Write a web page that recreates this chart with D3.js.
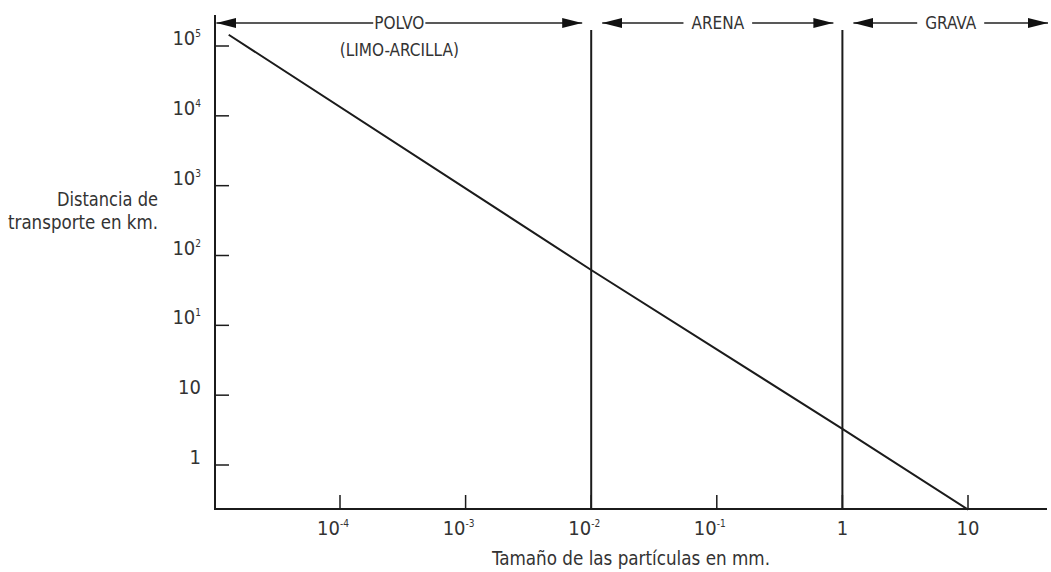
<!DOCTYPE html>
<html>
<head>
<meta charset="utf-8">
<script src="https://cdn.jsdelivr.net/npm/d3@7"></script>
<style>
  body { margin: 0; background: #fff; }
  svg text { font-family: "DejaVu Sans Condensed", "Liberation Sans", sans-serif; font-stretch: condensed; fill: #333; }
</style>
</head>
<body>
<svg id="chart" width="1051" height="572"></svg>
<script>
// === DONNÉES ===
// tamaño (mm) y distancia (km) leídos sobre la recta
const lineSize = [1.3e-5, 1e-2, 1, 10];
const lineDist = [1.45e5, 62, 0.33, 0.023];

// ticks del eje X
const xTickValues = [1e-4, 1e-3, 1e-2, 1e-1, 1, 10];
const xTickBase = ["10", "10", "10", "10", "1", "10"];
const xTickExp = ["-4", "-3", "-2", "-1", "", ""];

// ticks del eje Y (las etiquetas tal como aparecen en la figura)
const yTickValues = [1e5, 1e4, 1e3, 1e2, 1e1, 1, 1e-1];
const yTickBase = ["10", "10", "10", "10", "10", "10", "1"];
const yTickExp = ["5", "4", "3", "2", "1", "", ""];

// zonas granulométricas
const zoneNames = ["POLVO", "ARENA", "GRAVA"];
const zoneSub = ["(LIMO-ARCILLA)", "", ""];
const zoneLimits = [1e-5, 1e-2, 1, 43];
const boundaries = [1e-2, 1];

// === CONFIGURATION ===
const axisLeftX = 215, axisRightX = 1047;
const axisTopY = 15, axisBottomY = 509;
const ink = "#1b1b1b";

const svg = d3.select("#chart");

const x = d3.scaleLog().domain([1e-4, 10]).range([340, 968]);
const y = d3.scaleLog().domain([1e5, 1e-1]).range([46, 465]);

// flecha
svg.append("defs").append("marker")
  .attr("id", "arrow")
  .attr("viewBox", "0 0 20 10")
  .attr("refX", 20).attr("refY", 5)
  .attr("markerWidth", 20).attr("markerHeight", 10)
  .attr("markerUnits", "userSpaceOnUse")
  .attr("orient", "auto-start-reverse")
  .append("path")
  .attr("d", "M0,0 L20,5 L0,10 Z")
  .attr("fill", "#111");

// === EJES ===
svg.append("line")
  .attr("x1", axisLeftX).attr("x2", axisLeftX)
  .attr("y1", axisTopY).attr("y2", axisBottomY)
  .attr("stroke", ink).attr("stroke-width", 2);

svg.append("line")
  .attr("x1", axisLeftX - 1).attr("x2", axisRightX)
  .attr("y1", axisBottomY).attr("y2", axisBottomY)
  .attr("stroke", ink).attr("stroke-width", 2);

// ticks Y (hacia dentro)
svg.append("g")
  .selectAll("line")
  .data(yTickValues)
  .enter()
  .append("line")
  .attr("x1", axisLeftX).attr("x2", axisLeftX + 14)
  .attr("y1", d => y(d)).attr("y2", d => y(d))
  .attr("stroke", ink).attr("stroke-width", 1.5);

const yLabels = svg.append("g")
  .selectAll("text")
  .data(yTickValues)
  .enter()
  .append("text")
  .attr("x", 201)
  .attr("y", d => y(d) - 1)
  .attr("text-anchor", "end")
  .style("font-size", "20px");
yLabels.append("tspan").text((d, i) => yTickBase[i]);
yLabels.append("tspan")
  .attr("dy", -8)
  .style("font-size", "10px")
  .text((d, i) => yTickExp[i]);

// ticks X (hacia arriba)
svg.append("g")
  .selectAll("line")
  .data(xTickValues)
  .enter()
  .append("line")
  .attr("x1", d => x(d)).attr("x2", d => x(d))
  .attr("y1", axisBottomY).attr("y2", axisBottomY - 14)
  .attr("stroke", ink).attr("stroke-width", 1.5);

const xLabels = svg.append("g")
  .selectAll("text")
  .data(xTickValues)
  .enter()
  .append("text")
  .attr("x", (d, i) => x(d) - (xTickExp[i] ? 7 : 0))
  .attr("y", axisBottomY + 26)
  .attr("text-anchor", "middle")
  .style("font-size", "20px");
xLabels.append("tspan").text((d, i) => xTickBase[i]);
xLabels.append("tspan")
  .attr("dy", -8)
  .style("font-size", "10px")
  .text((d, i) => xTickExp[i]);

// títulos
svg.append("text")
  .attr("x", 492).attr("y", 565)
  .attr("textLength", 278)
  .attr("lengthAdjust", "spacingAndGlyphs")
  .style("font-size", "19px")
  .text("Tamaño de las partículas en mm.");

svg.append("text")
  .attr("x", 57).attr("y", 206)
  .attr("textLength", 101)
  .attr("lengthAdjust", "spacingAndGlyphs")
  .style("font-size", "19px")
  .text("Distancia de");
svg.append("text")
  .attr("x", 8).attr("y", 229)
  .attr("textLength", 150)
  .attr("lengthAdjust", "spacingAndGlyphs")
  .style("font-size", "19px")
  .text("transporte en km.");

// === LÍMITES DE ZONAS ===
svg.append("g")
  .selectAll("line")
  .data(boundaries)
  .enter()
  .append("line")
  .attr("x1", d => x(d)).attr("x2", d => x(d))
  .attr("y1", 30).attr("y2", axisBottomY)
  .attr("stroke", ink).attr("stroke-width", 2);

// === RECTA ===
const pts = lineSize.map((s, i) => [x(s), y(lineDist[i])]);
svg.append("path")
  .attr("d", d3.line()(pts))
  .attr("fill", "none")
  .attr("stroke", ink)
  .attr("stroke-width", 2);

// === FLECHAS DE ZONAS ===
const arrowY = 23;
zoneNames.forEach((name, i) => {
  const x0 = x(zoneLimits[i]) + (i === 0 ? 2 : 11);
  const x1 = i === zoneNames.length - 1 ? axisRightX + 1 : x(zoneLimits[i + 1]) - 9;
  const cx = (x0 + x1) / 2;

  const label = svg.append("text")
    .attr("x", cx).attr("y", arrowY + 6)
    .attr("text-anchor", "middle")
    .style("font-size", "17px")
    .text(name);
  const w = label.node().getComputedTextLength();
  const gap = i === 0 ? 1 : 8;

  svg.append("line")
    .attr("x1", cx - w / 2 - gap).attr("x2", x0)
    .attr("y1", arrowY).attr("y2", arrowY)
    .attr("stroke", "#222").attr("stroke-width", 1.5)
    .attr("marker-end", "url(#arrow)");
  svg.append("line")
    .attr("x1", cx + w / 2 + gap).attr("x2", x1)
    .attr("y1", arrowY).attr("y2", arrowY)
    .attr("stroke", "#222").attr("stroke-width", 1.5)
    .attr("marker-end", "url(#arrow)");

  if (zoneSub[i]) {
    svg.append("text")
      .attr("x", cx).attr("y", arrowY + 33)
      .attr("text-anchor", "middle")
      .style("font-size", "17px")
      .text(zoneSub[i]);
  }
});
</script>
</body>
</html>
